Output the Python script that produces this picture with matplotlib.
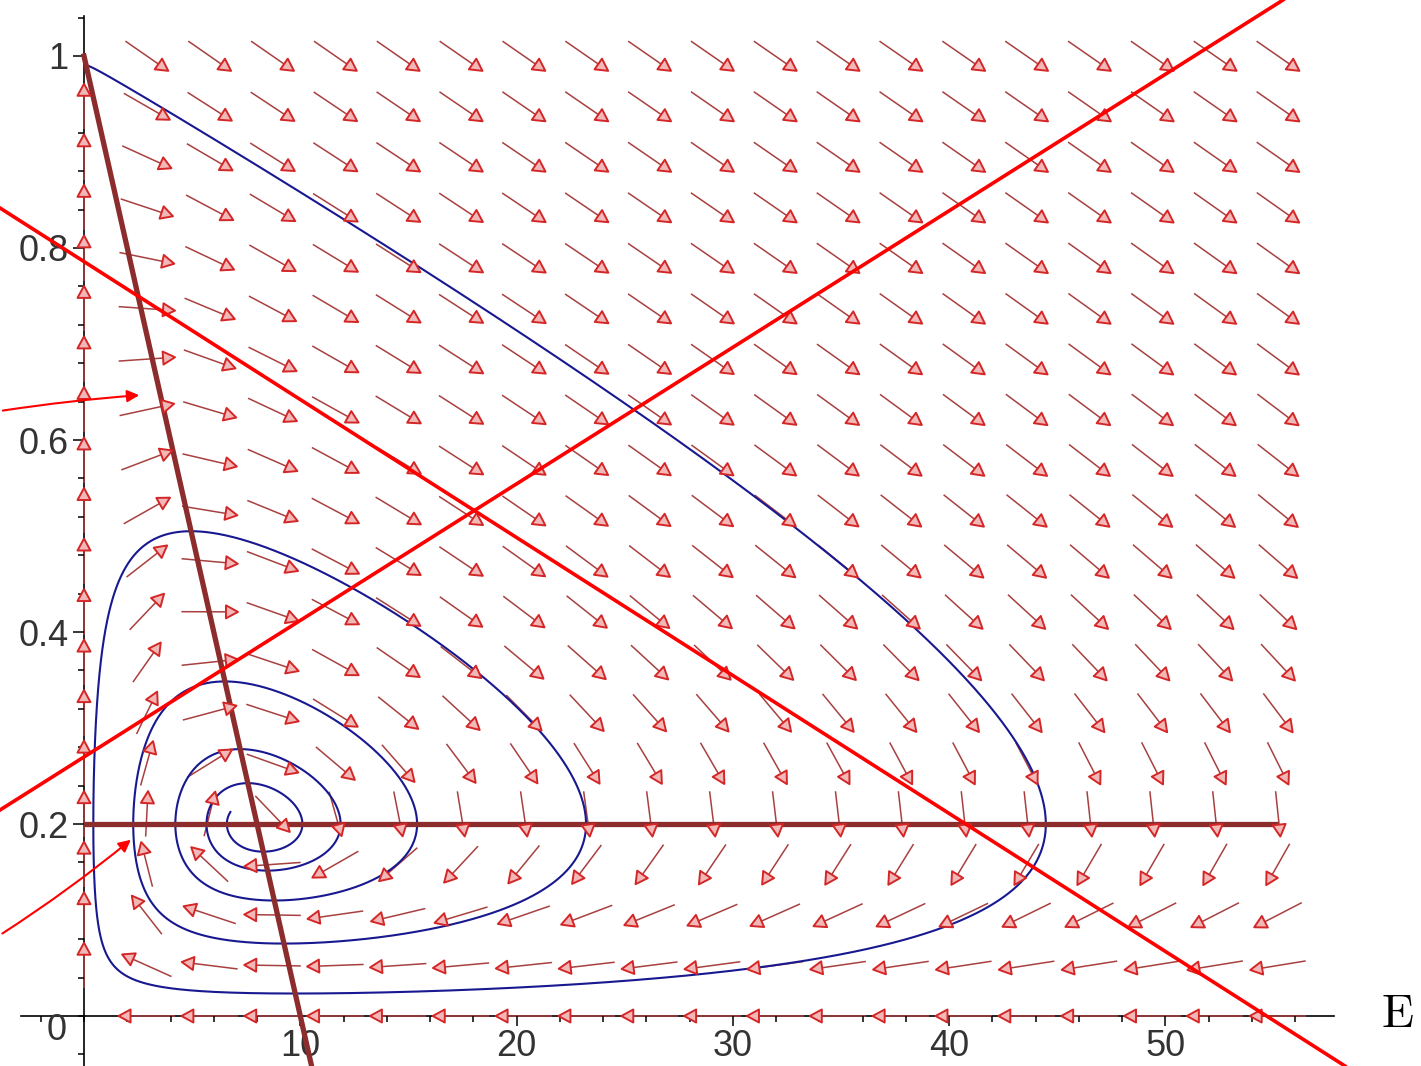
import numpy as np
import matplotlib
matplotlib.use('Agg')
import matplotlib.pyplot as plt
from matplotlib.collections import LineCollection, PolyCollection
from matplotlib.patches import FancyArrowPatch
from matplotlib.ticker import FixedLocator, FixedFormatter

# ---- model (nullclines y=0.2 and y = 1 - E/10) ----
rate = 8.0            # E' = rate*E*(y - y_star)
y_star = 0.2          # horizontal nullcline
y_max = 1.0           # diagonal nullcline hits y axis here
e_max = 10.0          # ... and E axis here
start = (0.15, 0.99)  # start of blue trajectory
n_turns = 5           # upward crossings of y=0.2 before it stops
y_end = 0.2125

# direction field grid (20 x 20 like maple)
e_grid = np.linspace(0, 55.2, 20)
y_grid = np.linspace(0, 1.0, 20)

# straight red lines and annotation arrows, in pixel coords of the picture
red_lines = [((0, 208), (1345, 1066)), ((0, 810), (1283, 0))]
note_arrows = [((0, 411), (142, 395), -0.02), ((0, 935), (133, 838), 0.03)]

x_major = [10, 20, 30, 40, 50]
y_major = [0.2, 0.4, 0.6, 0.8, 1.0]
y_labels = ['0.2', '0.4', '0.6', '0.8', '1']

# ---- picture geometry ----
W, H = 1421, 1066
X0, SX = 84.0, 21.63
Y0, SY = 1016.0, 960.0


def to_data(xp, yp):
    return (xp - X0) / SX, (Y0 - yp) / SY


def rhs(E, y):
    return rate * E * (y - y_star), y * (1 - y / y_max - E / e_max)


# integrate trajectory (rk4)
dt = 0.001
E, y = start
traj = [(E, y)]
crossings = 0
for i in range(200000):
    k1 = rhs(E, y)
    k2 = rhs(E + dt / 2 * k1[0], y + dt / 2 * k1[1])
    k3 = rhs(E + dt / 2 * k2[0], y + dt / 2 * k2[1])
    k4 = rhs(E + dt * k3[0], y + dt * k3[1])
    En = E + dt / 6 * (k1[0] + 2 * k2[0] + 2 * k3[0] + k4[0])
    yn = y + dt / 6 * (k1[1] + 2 * k2[1] + 2 * k3[1] + k4[1])
    if y < y_star <= yn:
        crossings += 1
    E, y = En, yn
    traj.append((E, y))
    if crossings >= n_turns and y >= y_end:
        break
traj = np.array(traj)

plt.rcParams['font.family'] = ['Liberation Sans Narrow', 'Liberation Sans', 'DejaVu Sans']
fig = plt.figure(figsize=(W / 100, H / 100), dpi=100)
ax = fig.add_axes([0, 0, 1, 1])
ax.set_xlim(-X0 / SX, (W - X0) / SX)
ax.set_ylim((Y0 - H) / SY, Y0 / SY)

# ---- direction field ----
dE = e_grid[1] - e_grid[0]
dY = y_grid[1] - y_grid[0]
cx, cy = dE * SX, dY * SY
shafts, heads = [], []
for Eg in e_grid:
    for yg in y_grid:
        fe, fy = rhs(Eg, yg)
        u, v = fe / dE, fy / dY
        n = np.hypot(u, v)
        if n < 1e-12:
            continue
        hx, hy = 0.45 * cx * u / n, 0.45 * cy * v / n
        L = np.hypot(hx, hy)
        dx, dy = hx / L, hy / L
        tail = (Eg - hx / SX, yg - hy / SY)
        tip = (Eg + hx / SX, yg + hy / SY)
        bx, by = -12 * dx, -12 * dy
        base = (tip[0] + bx / SX, tip[1] + by / SY)
        px_, py_ = -dy * 6.5, dx * 6.5
        shafts.append([tail, base])
        heads.append([tip, (base[0] + px_ / SX, base[1] + py_ / SY),
                      (base[0] - px_ / SX, base[1] - py_ / SY)])
ax.add_collection(LineCollection(shafts, colors='#a84040', linewidths=1.1, zorder=1))
ax.add_collection(PolyCollection(heads, facecolors='#f2b8b8', edgecolors='#d42626',
                                 linewidths=1.4, zorder=4))

# trajectory
ax.plot(traj[:, 0], traj[:, 1], color='#181890', lw=1.5, zorder=2)

# nullclines
ax.plot([0, e_grid[-1]], [y_star, y_star], color='#8c2c2c', lw=3.8, zorder=3,
        solid_capstyle='butt')
e_bot = e_max * (1 - (Y0 - H) / SY / y_max)
ax.plot([0, e_bot], [y_max, (Y0 - H) / SY], color='#8c2c2c', lw=3.8, zorder=3)

# ---- axes through origin ----
for s in ['top', 'right']:
    ax.spines[s].set_visible(False)
ax.spines['left'].set_position(('data', 0))
ax.spines['bottom'].set_position(('data', 0))
ax.spines['bottom'].set_bounds(-2.9, 57.8)
ax.spines['left'].set_bounds(-0.052, 1.042)
for s in ['left', 'bottom']:
    ax.spines[s].set_linewidth(1.2)
    ax.spines[s].set_zorder(0.5)

ax.xaxis.set_major_locator(FixedLocator(x_major))
ax.xaxis.set_minor_locator(FixedLocator(np.arange(-2, 57, 2)))
ax.yaxis.set_major_locator(FixedLocator(y_major))
ax.yaxis.set_major_formatter(FixedFormatter(y_labels))
ax.yaxis.set_minor_locator(FixedLocator(np.arange(-0.04, 1.05, 0.04)))
ax.tick_params(axis='both', which='both', direction='out', width=1.1,
               labelsize=26, labelcolor='#333333')
ax.tick_params(axis='x', which='major', length=7, pad=2)
ax.tick_params(axis='x', which='minor', length=4)
ax.tick_params(axis='y', which='major', length=8, pad=3)
ax.tick_params(axis='y', which='minor', length=4)
ax.text(*to_data(57, 1030), '0', fontsize=26, color='#333333', ha='center', va='center')

# ---- red overlay lines ----
for p, q in red_lines:
    a, b = to_data(*p), to_data(*q)
    ax.plot([a[0], b[0]], [a[1], b[1]], color='#ff0000', lw=2.6, zorder=6)
for p, q, rad in note_arrows:
    ar = FancyArrowPatch(to_data(*p), to_data(*q), arrowstyle='-|>', mutation_scale=18,
                         connectionstyle=f'arc3,rad={rad}', color='#ff0000', lw=1.5,
                         zorder=6)
    ax.add_patch(ar)

ax.text(*to_data(1397, 1015), r'$\mathrm{E}$', fontsize=34, ha='center', va='center',
        math_fontfamily='cm')

fig.savefig('out.png', dpi=100)
